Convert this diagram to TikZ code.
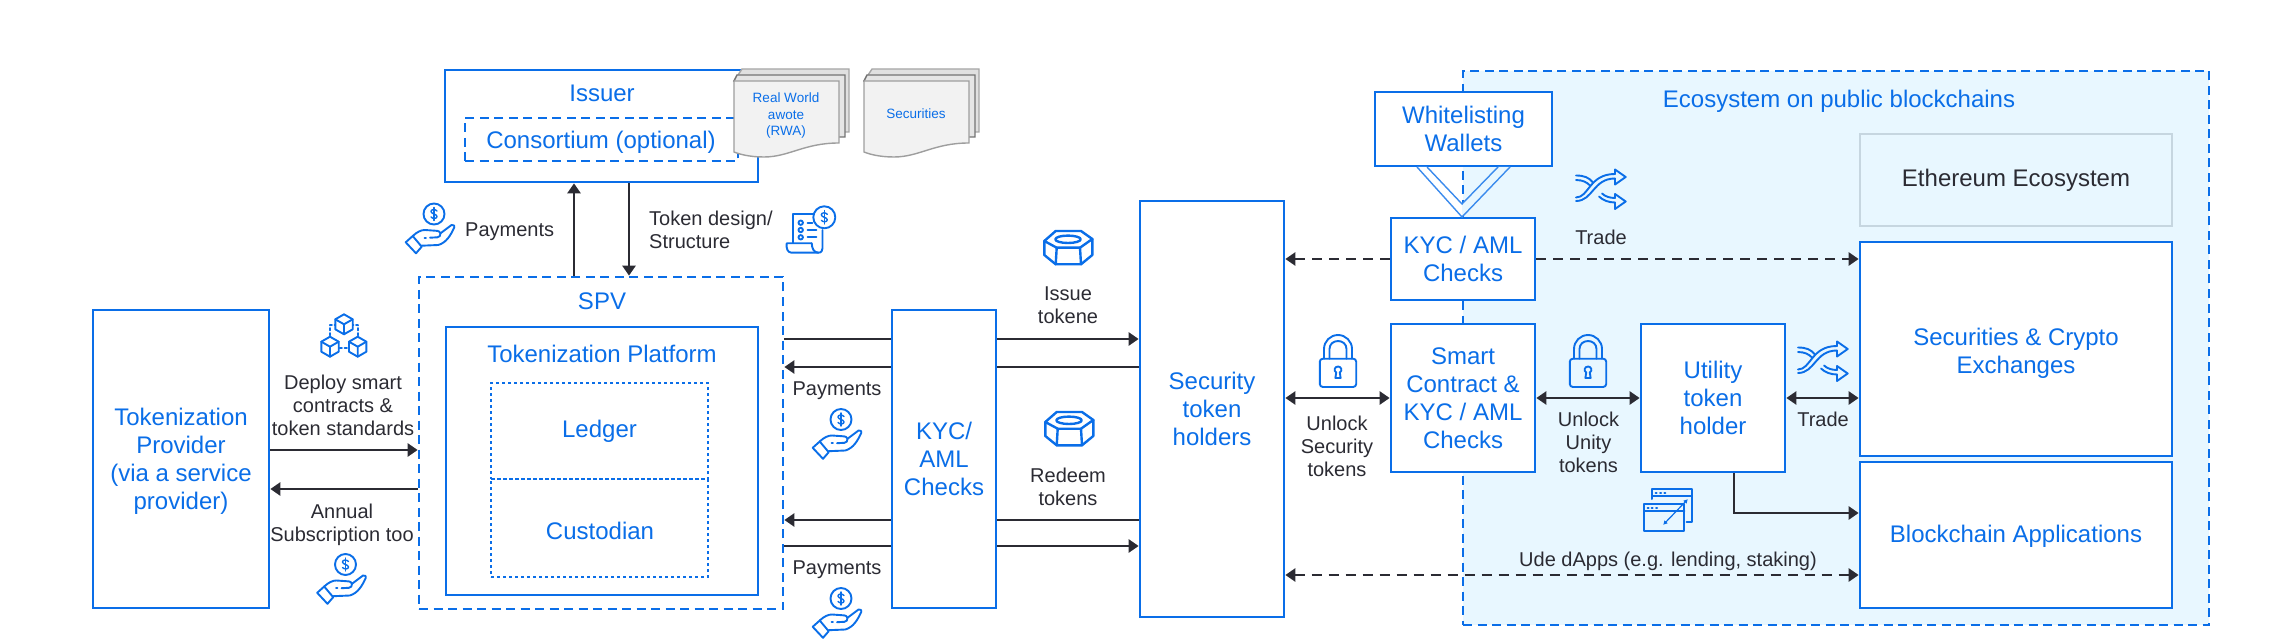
\documentclass[tikz,border=0pt]{standalone}
\usepackage{fontspec}
\setmainfont{Liberation Sans}
\usetikzlibrary{arrows.meta}
\definecolor{tblue}{HTML}{0A6EE8}
\definecolor{tdark}{HTML}{2B2B33}
\definecolor{ecofill}{HTML}{E8F7FF}
\definecolor{ethline}{HTML}{C6D6E0}
\begin{document}
\begin{tikzpicture}[x=1pt,y=-1pt]
  \tikzset{ box/.style={draw=tblue,line width=2.7pt,fill=white,inner sep=0pt,align=center,text=tblue,font=\fontsize{24}{28}\selectfont},
    dashbox/.style={box,fill=none,dash pattern=on 9pt off 5.5pt},
    dotbox/.style={box,fill=none,dash pattern=on 3pt off 3pt},
    head/.style={inner sep=0pt,align=center,text=tblue,font=\fontsize{24}{28}\selectfont},
    lbl/.style={inner sep=0pt,align=center,text=tdark,font=\fontsize{20}{23}\selectfont},
    doclbl/.style={inner sep=0pt,align=center,text=tblue,font=\fontsize{13.5}{16.5}\selectfont},
    arr/.style={draw=tdark,line width=2.7pt,-{Triangle[length=10pt,width=13pt]}},
    plain/.style={draw=tdark,line width=2.7pt},
    both/.style={draw=tdark,line width=2.7pt,{Triangle[length=10pt,width=13pt]}-{Triangle[length=10pt,width=13pt]}},
    dasharr/.style={arr,dash pattern=on 10pt off 7pt},
    dashboth/.style={both,dash pattern=on 10pt off 7pt},
    ico/.style={draw=tblue,line width=1.9pt,line join=round,line cap=round},
    handicon/.pic={
      \draw[ico] (3.5,-15.5) circle[radius=10.5];
      \draw[ico,line width=1.4pt] (6.5,-18.5) .. controls (5,-20.5) and (0.5,-20.5) .. (0.5,-18) .. controls (0.5,-15.5) and (6.5,-15.5) .. (6.5,-13) .. controls (6.5,-10.5) and (2,-10.5) .. (0.5,-12.5);
      \draw[ico,line width=1.4pt] (3.5,-22) -- (3.5,-9);
      \draw[ico] (-24.8,12.8) -- (-17.8,6.5) -- (-8.8,17.2) -- (-14.5,23.8) -- cycle;
      \draw[ico] (-17.8,6.5) .. controls (-13,2) and (-9,0.5) .. (-5.5,0.5) -- (4.5,1.2) .. controls (8,1.2) and (10,2.5) .. (10,3.8) .. controls (10,6) and (9,7.8) .. (7,7.8) -- (-0.5,8.2);
      \draw[ico] (10,3.8) -- (21,-4.5) .. controls (23,-5) and (25,-3.5) .. (23.8,-2.2) .. controls (20,6) and (16,13) .. (7.8,15.5) -- (-8.8,16.2);
      \draw[ico] (-6,8.2) -- (-4.5,8.2);
    },
    cubeicon/.pic={
      \foreach \cx/\cy in {0/-11.7,-14/10.7,13.7/10.7}{
        \draw[ico] (\cx,\cy-10) -- (\cx+8.7,\cy-5) -- (\cx+8.7,\cy+5) -- (\cx,\cy+10) -- (\cx-8.7,\cy+5) -- (\cx-8.7,\cy-5) -- cycle;
        \draw[ico] (\cx-8.7,\cy-5) -- (\cx,\cy) -- (\cx+8.7,\cy-5) (\cx,\cy) -- (\cx,\cy+10);
      }
      \draw[ico,dash pattern=on 2.5pt off 2.5pt] (-14,-0.5) -- (-14,-11) -- (-9,-11);
      \draw[ico,dash pattern=on 2.5pt off 2.5pt] (14,-0.5) -- (14,-11) -- (9,-11);
      \draw[ico,dash pattern=on 2.5pt off 2.5pt] (-4.5,12.3) -- (4.5,12.3);
    },
    receipticon/.pic={
      \draw[ico] (13.8,-12.7) circle[radius=11];
      \draw[ico,line width=1.4pt] (16.8,-15.7) .. controls (15.3,-17.7) and (10.8,-17.7) .. (10.8,-15.2) .. controls (10.8,-12.7) and (16.8,-12.7) .. (16.8,-10.2) .. controls (16.8,-7.7) and (12.3,-7.7) .. (10.8,-9.7);
      \draw[ico,line width=1.4pt] (13.8,-19.5) -- (13.8,-6);
      \draw[ico] (2.8,-16) -- (-17.2,-16) -- (-17.2,12.7);
      \draw[ico] (1.2,13.3) -- (-23.8,13.3) .. controls (-24.5,18) and (-23,22.7) .. (-19,22.7) -- (7.8,22.7) .. controls (11,22.7) and (12,20.5) .. (12,18.3) -- (12,0);
      \draw[ico] (1.2,13.3) .. controls (1.5,18) and (3,22.7) .. (7.8,22.7);
      \draw[ico] (-9.8,-7.3) circle[radius=2.2] (-9.8,0) circle[radius=2.2] (-9.8,7.3) circle[radius=2.2];
      \draw[ico] (-3,-7.3) -- (2,-7.3) (-3,0) -- (6,0) (-3,7.3) -- (6,7.3);
    },
    nuticon/.pic={
      \draw[ico,line width=2.4pt] (-23.7,-7) -- (-12.3,-17) -- (13,-17) -- (24.3,-9) -- (12,-0.3) -- (-11.3,-0.3) -- cycle;
      \draw[ico,line width=2.4pt] (-23.7,-7) -- (-23.7,7) -- (-12.3,16.3) -- (13,16.3) -- (24.3,7) -- (24.3,-9);
      \draw[ico,line width=2.4pt] (-11.3,-0.3) -- (-12.3,16.3) (12,-0.3) -- (13,16.3);
      \draw[ico,line width=2.4pt] (0,-8.7) ellipse[x radius=12.7,y radius=3.7];
    },
    shuffleicon/.pic={
      \draw[ico] (-25,10.5) .. controls (-8,10.5) and (-8,-12) .. (14,-12);
      \draw[ico] (-25,7) .. controls (-12,7) and (-12,-16.5) .. (14,-16.5);
      \draw[ico] (14,-16.5) -- (14,-21) -- (24.7,-13.5) -- (14,-6) -- (14,-12);
      \draw[ico] (-25,-15) .. controls (-17,-15) and (-12,-13) .. (-8,-8);
      \draw[ico] (-25,-10.5) .. controls (-18,-10.5) and (-14,-8) .. (-11,-5);
      \draw[ico] (1,3) .. controls (4,6) and (9,7.5) .. (14,7.5);
      \draw[ico] (-2,6) .. controls (2,10) and (8,12) .. (14,12);
      \draw[ico] (14,7.5) -- (14,3.5) -- (24.7,11) -- (14,18.5) -- (14,12);
    },
    windowicon/.pic={
      \draw[ico,line width=2pt] (-15.7,-14) -- (-15.7,-23.7) -- (23.7,-23.7) -- (23.7,9) -- (18.7,9);
      \draw[ico,line width=2pt] (-15.7,-17) -- (23.7,-17);
      \draw[ico,line width=2pt] (-12.3,-20) -- (-11.3,-20) (-8,-20) -- (-7,-20) (-3.7,-20) -- (-2.7,-20);
      \draw[ico,line width=2pt] (-24,-9.3) rectangle (16.3,18.3);
      \draw[ico,line width=2pt] (-24,-1.7) -- (16.3,-1.7);
      \draw[ico,line width=2pt] (-20.3,-5.5) -- (-19.3,-5.5) (-16.3,-5.5) -- (-15.3,-5.5) (-12,-5.5) -- (-11,-5.5);
      \draw[ico,line width=1.2pt,{Triangle[length=4pt,width=4pt]}-{Triangle[length=4pt,width=4pt]}] (-4.7,11.7) -- (19.7,-13.7);
    },
    lockicon/.pic={
      \draw[ico,rounded corners=3pt] (-18.2,-4.3) rectangle (18.2,24);
      \draw[ico] (-14,-4.3) -- (-14,-14) .. controls (-14,-21.7) and (-7.7,-28) .. (0,-28) .. controls (7.7,-28) and (14,-21.7) .. (14,-14) -- (14,-4.3);
      \draw[ico] (-8.5,-4.3) -- (-8.5,-14) .. controls (-8.5,-19) and (-4.5,-22) .. (0,-22) .. controls (4.5,-22) and (8.5,-19) .. (8.5,-14) -- (8.5,-4.3);
      \draw[ico] (-1.8,9.5) .. controls (-5,7.5) and (-3,3.5) .. (0,3.5) .. controls (3,3.5) and (5,7.5) .. (1.8,9.5) -- (2.6,15) -- (-2.6,15) -- cycle;
    },
    docicon/.pic={
      \draw[draw=black!35,fill=black!12,line width=1.4pt] (8,-12) -- (115,-12) -- (115,51) -- (100,51) -- (0,0) -- cycle;
      \draw[draw=black!55,fill=black!10,line width=1.4pt] (3,-6) -- (111,-6) -- (111,56) -- (100,56) -- (0,0) -- cycle;
      \draw[draw=black!38,fill=black!5,line width=1.4pt] (0,0) -- (105,0) -- (105,62) .. controls (70,62) and (55,76) .. (30,76) .. controls (15,76) and (5,73) .. (0,71) -- cycle;
    },
  }
  \useasboundingbox (0,0) rectangle (2286,644);

  % the area behind the right part
  \node[box,fill=ecofill,dash pattern=on 9pt off 5.5pt,minimum width=746pt,minimum height=554pt] (eco) at (1836,348) {};
  \node[head] (ecolbl) at (1839,101.5) {Ecosystem on public blockchains};

  % the boxes
  \node[box,minimum width=176pt,minimum height=298pt] (provider) at (181,459) {};
  \node[head] (providerlbl) at (181,461.5) {Tokenization\\Provider\\(via a service\\provider)};
  \node[box,minimum width=313pt,minimum height=112pt] (issuer) at (601.5,126) {};
  \node[head] (issuerlbl) at (602,93) {Issuer};
  \node[dashbox,minimum width=273pt,minimum height=43pt] (consortium) at (601.5,139.5) {};
  \node[head] (consortiumlbl) at (601,142) {Consortium (optional)};
  \node[dashbox,minimum width=364pt,minimum height=332pt] (spv) at (601,443) {};
  \node[head] (spvlbl) at (602,301) {SPV};
  \node[box,minimum width=312pt,minimum height=268pt] (platform) at (602,461) {};
  \node[head] (platformlbl) at (602,354) {Tokenization Platform};
  \node[dotbox,minimum width=217pt,minimum height=96pt] (ledger) at (599.5,431) {Ledger};
  \node[dotbox,minimum width=217pt,minimum height=98pt] (custodian) at (599.5,528) {};
  \node[head] (custodianlbl) at (600,531) {Custodian};
  \node[box,minimum width=104pt,minimum height=298pt] (kyc) at (944,459) {KYC/\\AML\\Checks};
  \node[box,minimum width=144pt,minimum height=416pt] (holders) at (1212,409) {Security\\token\\holders};
  \node[box,minimum width=177pt,minimum height=74pt] (wallets) at (1463.5,129) {Whitelisting\\Wallets};
  \node[box,minimum width=144pt,minimum height=82pt] (checks) at (1463,259) {KYC / AML\\Checks};
  \node[box,minimum width=144pt,minimum height=148pt] (smart) at (1463,398) {Smart\\Contract \&\\KYC / AML\\Checks};
  \node[box,minimum width=144pt,minimum height=148pt] (utility) at (1713,398) {Utility\\token\\holder};
  \node[box,fill=none,draw=ethline,text=tdark,minimum width=312pt,minimum height=92pt] (ethereum) at (2016,180) {Ethereum Ecosystem};
  \node[box,minimum width=312pt,minimum height=214pt] (exchanges) at (2016,349) {};
  \node[head] (exchangeslbl) at (2016,353) {Securities \& Crypto\\Exchanges};
  \node[box,minimum width=312pt,minimum height=146pt] (apps) at (2016,535) {};
  \node[head] (appslbl) at (2016,536) {Blockchain Applications};

  % the open arrow below the wallets
  \fill[white] (1417,167) -- (1462,217) -- (1462,204) -- (1427,167) -- cycle;
  \fill[ecofill] (1510,167) -- (1462,217) -- (1462,204) -- (1498,167) -- cycle;
  \draw[draw=tblue!80,line width=1.4pt,line join=miter] (1417,167) -- (1462,217) -- (1510,167);
  \draw[draw=tblue!80,line width=1.4pt,line join=miter] (1427,167) -- (1462,204) -- (1498,167);

  % the papers on the issuer
  \pic at (734,81) {docicon};
  \pic at (864,81) {docicon};
  \node[doclbl] (rwa) at (786,116) {Real World\\awote\\(RWA)};
  \node[doclbl] (securities) at (916,114) {Securities};

  % the connections
  \draw[arr] (spv.north -| 574,0) -- (issuer.south -| 574,0);
  \draw[arr] (issuer.south -| 629,0) -- (spv.north -| 629,0);
  \draw[arr] (provider.east |- 0,450) -- (spv.west |- 0,450);
  \draw[arr] (spv.west |- 0,489) -- (provider.east |- 0,489);
  \draw[plain] (spv.east |- 0,339) -- (kyc.west |- 0,339);
  \draw[arr] (kyc.east |- 0,339) -- (holders.west |- 0,339);
  \draw[plain] (holders.west |- 0,367) -- (kyc.east |- 0,367);
  \draw[arr] (kyc.west |- 0,367) -- (spv.east |- 0,367);
  \draw[plain] (holders.west |- 0,520) -- (kyc.east |- 0,520);
  \draw[arr] (kyc.west |- 0,520) -- (spv.east |- 0,520);
  \draw[plain] (spv.east |- 0,546) -- (kyc.west |- 0,546);
  \draw[arr] (kyc.east |- 0,546) -- (holders.west |- 0,546);
  \draw[dasharr] (checks.west) -- (holders.east |- checks.west);
  \draw[dasharr] (checks.east) -- (exchanges.west |- checks.east);
  \draw[both] (holders.east |- smart.west) -- (smart.west);
  \draw[both] (smart.east) -- (utility.west);
  \draw[both] (utility.east) -- (exchanges.west |- utility.east);
  \draw[arr] (utility.south -| 1734,0) |- (apps.west |- 0,513);
  \draw[dashboth] (holders.east |- 0,575) -- (apps.west |- 0,575);

  % the texts next to the connections
  \node[lbl] (deploy) at (343,405.5) {Deploy smart\\contracts \&\\token standards};
  \node[lbl] (annual) at (342,524.5) {Annual\\Subscription too};
  \node[lbl,anchor=west] (payissuer) at (465,231.5) {Payments};
  \node[lbl,align=left,anchor=west] (design) at (649,229.5) {Token design/\\Structure};
  \node[lbl] (payup) at (837,391) {Payments};
  \node[lbl] (paydown) at (837,570) {Payments};
  \node[lbl] (issue) at (1068,305.5) {Issue\\tokene};
  \node[lbl] (redeem) at (1068,487) {Redeem\\tokens};
  \node[lbl] (unlocksec) at (1337,446.5) {Unlock\\Security\\tokens};
  \node[lbl] (unlockuni) at (1588.5,442.5) {Unlock\\Unity\\tokens};
  \node[lbl] (tradetop) at (1601,237) {Trade};
  \node[lbl] (tradeex) at (1823,419.5) {Trade};
  \node[lbl] (dapps) at (1668,561.5) {Ude dApps (e.g. lending, staking)};

  % the icons
  \pic at (344,336) {cubeicon};
  \pic at (342,580) {handicon};
  \pic at (430.5,229.5) {handicon};
  \pic at (810.5,230) {receipticon};
  \pic at (837.5,435) {handicon};
  \pic at (837.5,614) {handicon};
  \pic at (1068,248) {nuticon};
  \pic at (1069,429) {nuticon};
  \pic at (1338,363) {lockicon};
  \pic at (1588,363) {lockicon};
  \pic at (1601,190.5) {shuffleicon};
  \pic at (1823,362.5) {shuffleicon};
  \pic at (1668,513) {windowicon};
\end{tikzpicture}
\end{document}
